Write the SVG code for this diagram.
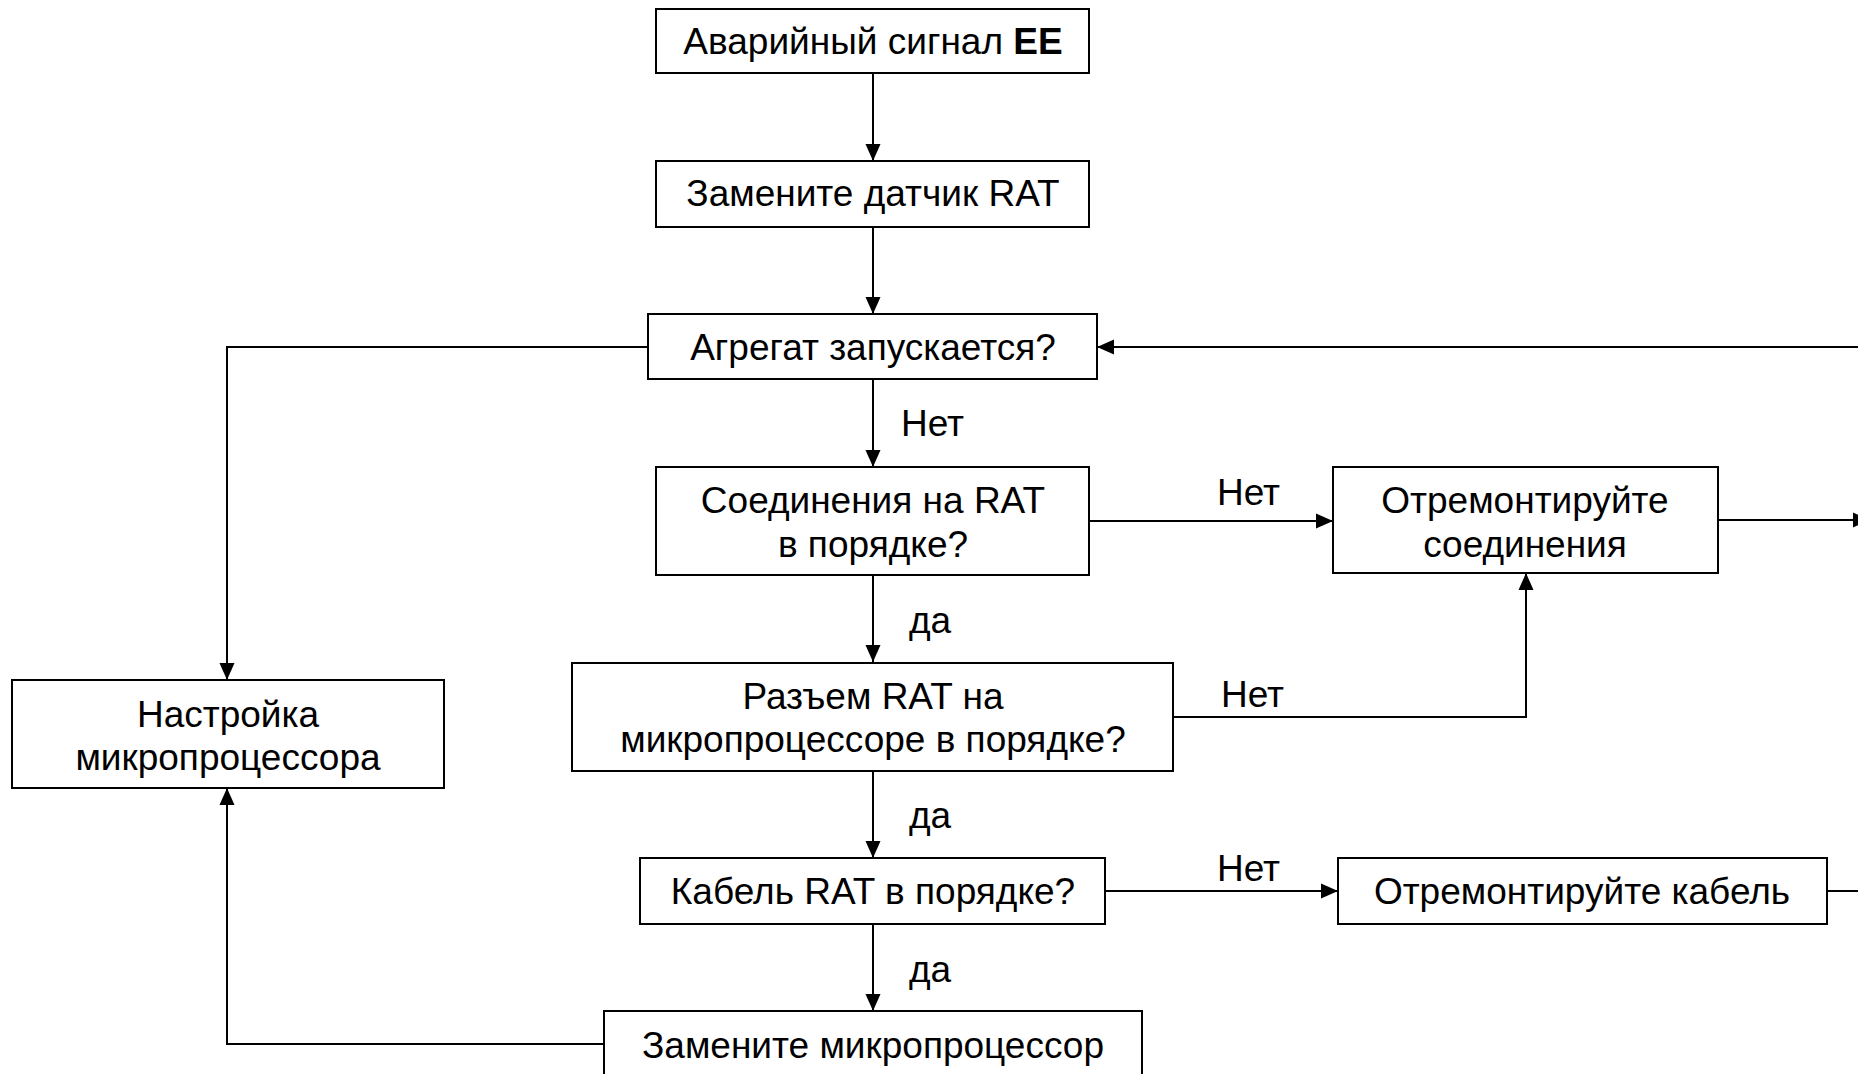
<svg xmlns="http://www.w3.org/2000/svg" width="1858" height="1074" viewBox="0 0 1858 1074">
<style>
  .box { fill: #ffffff; stroke: #000000; stroke-width: 2; }
  .t { font-family: "Liberation Sans", Arial, sans-serif; font-size: 37px; fill: #000000; text-anchor: middle; }
  .lbl { font-family: "Liberation Sans", Arial, sans-serif; font-size: 37px; fill: #000000; text-anchor: start; }
  .c { fill: none; stroke: #000000; stroke-width: 2; }
  .a { marker-end: url(#arr); }
</style>
<defs>
  <marker id="arr" markerUnits="userSpaceOnUse" markerWidth="17" markerHeight="17" viewBox="0 0 17 17" refX="17" refY="8.5" orient="auto">
    <path d="M0,1 L17,8.5 L0,16 Z" fill="#000000"/>
  </marker>
</defs>
<rect width="1858" height="1074" fill="#ffffff"/>
<g id="connectors">
  <path class="c a" d="M873,73 V161"/>
  <path class="c a" d="M873,227 V314"/>
  <path class="c a" d="M873,379 V467"/>
  <path class="c a" d="M873,575 V662"/>
  <path class="c a" d="M873,771 V858"/>
  <path class="c a" d="M873,924 V1011"/>
  <path class="c a" d="M648,347 H227 V680"/>
  <path class="c a" d="M604,1044 H227 V788"/>
  <path class="c a" d="M1089,521 H1333"/>
  <path class="c a" d="M1173,717 H1526 V573"/>
  <path class="c a" d="M1105,891 H1338"/>
  <path class="c a" d="M1718,520 H1870"/>
  <path class="c" d="M1827,891 H1870"/>
  <path class="c a" d="M1870,347 H1097"/>
  <text class="lbl" x="901" y="436">Нет</text>
  <text class="lbl" x="909" y="633">да</text>
  <text class="lbl" x="909" y="828">да</text>
  <text class="lbl" x="909" y="982">да</text>
  <text class="lbl" x="1217" y="505">Нет</text>
  <text class="lbl" x="1221" y="707">Нет</text>
  <text class="lbl" x="1217" y="881">Нет</text>
</g>
<g id="n1">
  <rect class="box" x="656" y="9" width="433" height="64"/>
  <text class="t" x="873" y="54">Аварийный сигнал <tspan font-weight="bold">EE</tspan></text>
</g>
<g id="n2">
  <rect class="box" x="656" y="161" width="433" height="66"/>
  <text class="t" x="873" y="206">Замените датчик RAT</text>
</g>
<g id="n3">
  <rect class="box" x="648" y="314" width="449" height="65"/>
  <text class="t" x="873" y="360">Агрегат запускается?</text>
</g>
<g id="n4">
  <rect class="box" x="656" y="467" width="433" height="108"/>
  <text class="t" x="873" y="513">Соединения на RAT</text>
  <text class="t" x="873" y="557">в порядке?</text>
</g>
<g id="n5">
  <rect class="box" x="1333" y="467" width="385" height="106"/>
  <text class="t" x="1525" y="513">Отремонтируйте</text>
  <text class="t" x="1525" y="557">соединения</text>
</g>
<g id="n6">
  <rect class="box" x="572" y="663" width="601" height="108"/>
  <text class="t" x="873" y="709">Разъем RAT на</text>
  <text class="t" x="873" y="752">микропроцессоре в порядке?</text>
</g>
<g id="n7">
  <rect class="box" x="640" y="858" width="465" height="66"/>
  <text class="t" x="873" y="904">Кабель RAT в порядке?</text>
</g>
<g id="n8">
  <rect class="box" x="1338" y="858" width="489" height="66"/>
  <text class="t" x="1582" y="904">Отремонтируйте кабель</text>
</g>
<g id="n9">
  <rect class="box" x="604" y="1011" width="538" height="70"/>
  <text class="t" x="873" y="1058">Замените микропроцессор</text>
</g>
<g id="n10">
  <rect class="box" x="12" y="680" width="432" height="108"/>
  <text class="t" x="228" y="727">Настройка</text>
  <text class="t" x="228" y="770">микропроцессора</text>
</g>
</svg>
